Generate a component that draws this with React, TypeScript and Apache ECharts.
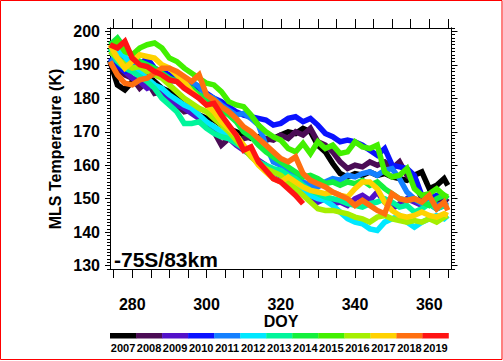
import React, { useEffect, useRef } from 'react';
import * as echarts from 'echarts';

const DOY = [274, 276, 278, 280, 282, 284, 286, 288, 290, 292,
  294, 296, 298, 300, 302, 304, 306, 308, 310, 312,
  314, 316, 318, 320, 322, 324, 326, 328, 330, 332,
  334, 336, 338, 340, 342, 344, 346, 348, 350, 352,
  354, 356, 358, 360, 362, 364, 365];

const YEARS = ['2007', '2008', '2009', '2010', '2011', '2012', '2013', '2014', '2015', '2016', '2017', '2018', '2019'];
const COLORS = ['#000000', '#4b0c55', '#5311c9', '#0a12ff', '#1480ff', '#00e8ff', '#00f59b', '#14f03c', '#42f000', '#a5ef00', '#ffd200', '#ff6f10', '#ff1414'];

const T2007 = [191, 184, 182.5, 185, 186, 187, 185, 183, 182, 180,
  178, 177, 175, 174, 173.5, 172, 171, 170, 169, 168,
  168.5, 167.5, 168, 169, 170, 169.5, 171, 170, 166, 164,
  160.5, 157.5, 156.5, 157.5, 157, 158, 157, 157.5, 156.5, 156,
  155.5, 157, 158, 153, 154, 156, 154];
const T2008 = [190, 189, 187, 186, 183, 185, 181.5, 182, 179, 178,
  176, 176.5, 174, 172, 170, 166, 168, 167, 168, 168.5,
  167, 168, 167.5, 169, 168, 170, 169, 171, 167, 166,
  164, 161, 159, 160, 159.5, 161, 160, 161, 159, 161,
  157, 155, 150, 151, 149, 150, 149];
const T2009 = [192, 190, 188, 186, 185, 183, 184, 181, 180, 178,
  177, 175.5, 174, 172, 171, 169, 168, 166, 164.5, 163,
  161.5, 160, 158, 156.5, 155, 153.5, 151.5, 150.5, 149, 150,
  148.5, 149, 148, 150, 151, 149.5, 152, 149, 147, 148.5,
  150, 149, 148, 148.5, 147, 148, 148];
const T2010 = [192, 190, 188, 189, 190, 192, 189, 188, 187, 186,
  185, 184, 183, 181.5, 180, 179, 177.5, 176, 175, 174.5,
  174, 173.5, 172, 172.5, 174, 174.5, 173, 174, 172, 169.5,
  168.5, 167, 167.5, 167, 166, 164.5, 163, 165, 160, 159.5,
  159, 157, 151, 150, 151, 150.5, 150];
const T2011 = [190, 194, 192, 191, 188, 189, 187, 186.5, 185, 185.5,
  184, 185, 183.5, 181, 180, 178, 176.5, 175, 175.5, 174,
  172, 166, 161, 160, 158, 157, 155, 154, 153.5, 155,
  156, 155.5, 157, 156.5, 157.5, 158, 157, 158.5, 159, 156,
  152, 150, 148.5, 149, 148, 148.5, 148];
const T2012 = [193, 194, 192.5, 189, 188, 186, 184, 183, 181, 179.5,
  178, 177, 175, 173, 171.5, 170, 168, 167, 165, 163,
  161, 159.5, 158, 157, 156, 154.5, 153, 151, 150, 149.5,
  148, 146, 144, 143, 142.5, 141, 140.5, 143, 144, 145,
  143, 141.5, 143, 144, 145, 144, 145];
const T2013 = [195, 191, 189, 188, 186.5, 185, 183, 180, 178, 176,
  172.5, 172.5, 173, 171, 169.5, 168.5, 168, 166.5, 165, 163,
  161, 160, 159, 158.5, 157, 156, 154, 152.5, 151.5, 150.5,
  150, 149.5, 148.5, 148, 147.5, 148.5, 149, 150, 149, 147.5,
  148, 146, 147, 148.5, 147, 148, 147.5];
const T2014 = [196, 198, 195, 193, 191, 190, 189, 187.5, 186, 185,
  184, 183, 181, 180, 178, 176.5, 175, 173, 170, 168.5,
  166, 164, 162.5, 161, 159.5, 158, 156.5, 157, 156, 154.5,
  155, 154, 155, 154.5, 155.5, 154, 155, 153, 151.5, 150,
  149.5, 150, 149, 148, 150, 151, 150];
const T2015 = [195, 197, 194, 193, 195, 196, 196.5, 195, 192, 191,
  189, 187.5, 186, 184.5, 184, 182, 179, 178, 177.5, 175,
  172, 170, 168.5, 167.5, 165, 164, 166.5, 163.5, 167, 165,
  166, 163.5, 164, 167, 165.5, 165, 166, 158, 156.5, 157,
  159, 153, 151, 151.5, 153, 151, 150.5];
const T2016 = [194, 192, 190, 189, 189.5, 188, 187, 186, 184, 182,
  180, 178.5, 177, 176, 174, 172, 170, 167.5, 165, 162.5,
  160.5, 159, 158, 157, 155, 153, 151, 149, 147, 146.5,
  146.5, 146, 145.5, 144.5, 144, 143, 144.5, 145, 144, 143.5,
  143, 143.5, 143, 144, 143, 144.5, 145];
const T2017 = [196, 192, 189, 191, 193, 192.5, 192, 190, 189, 187,
  185, 182, 180, 178, 176, 173, 171, 169, 166, 163,
  160, 158, 156, 155, 156.5, 155, 153.5, 152.5, 152, 151.5,
  152, 151, 150.5, 153, 155, 155, 153, 149, 146.5, 145,
  144.5, 145, 146, 145, 144.5, 145.5, 145];
const T2018 = [191, 187, 184.5, 184, 185.5, 186, 187.5, 189, 189, 188,
  186.5, 185, 187, 181, 179.5, 177.5, 176, 174, 171.5, 170,
  168, 166, 164, 162, 161, 162.5, 157.5, 155.5, 154.5, 153.5,
  152, 151, 150, 148, 149.5, 148, 146.5, 145.5, 151.5, 150,
  149.5, 150, 149, 151, 147, 149, 146.5];
const T2019 = [196, 195, 197, 192, 190, 189.5, 188, 187, 185.5, 185,
  183, 181.5, 180, 178, 178.5, 175, 172, 169, 164.5, 165.5,
  161, 158.5, 156, 155, 153, 151, 148.5];

const TEMPS = [T2007, T2008, T2009, T2010, T2011, T2012, T2013, T2014, T2015, T2016, T2017, T2018, T2019];

const X_TICKS = [275, 280, 285, 290, 295, 300, 305, 310, 315, 320, 325, 330, 335, 340, 345, 350, 355, 360, 365];
const X_LABELS = [280, 300, 320, 340, 360];
const Y_LABELS = [130, 140, 150, 160, 170, 180, 190, 200];
const Y_MINOR: number[] = [];
for (let v = 129; v <= 201; v++) Y_MINOR.push(v);

const FONT = '"Liberation Sans", Arial, Helvetica, sans-serif';

export default function App() {
  const ref = useRef<HTMLDivElement>(null);
  useEffect(() => {
    const chart = echarts.init(ref.current!, null, { renderer: 'svg' });
    const line = { color: '#000', width: 1 };
    const xAxisBase = (position: string, labels: boolean) => ({
      type: 'value', position, min: 274, max: 366,
      axisLine: { show: true, onZero: false, lineStyle: line },
      axisTick: { show: true, customValues: X_TICKS, length: 9, inside: false, lineStyle: line },
      axisLabel: labels
        ? { show: true, customValues: X_LABELS, fontSize: 16, fontWeight: 'bold', color: '#000', margin: 27, fontFamily: FONT }
        : { show: false },
      splitLine: { show: false },
    });
    const yAxisBase = (position: string, ticks: number[], len: number, labels: boolean) => ({
      type: 'value', position, offset: 0, min: 129, max: 201,
      axisLine: { show: true, onZero: false, lineStyle: line },
      axisTick: { show: true, customValues: ticks, length: len, inside: false, lineStyle: line },
      axisLabel: labels
        ? { show: true, customValues: Y_LABELS, fontSize: 16, fontWeight: 'bold', color: '#000', margin: 10, fontFamily: FONT }
        : { show: false },
      splitLine: { show: false },
    });

    const x0 = 110, x1 = 448.5;
    const bw = (x1 - x0) / YEARS.length;
    const bar: any[] = [];
    YEARS.forEach((y, i) => {
      bar.push({ type: 'rect', silent: true, shape: { x: x0 + i * bw, y: 333, width: bw + 0.3, height: 5.5 }, style: { fill: COLORS[i] } });
      bar.push({ type: 'text', silent: true, x: x0 + (i + 0.5) * bw, y: 348, style: { text: y, fontSize: 11, fontWeight: 'bold', fontFamily: FONT, fill: '#000', align: 'center', verticalAlign: 'middle' } });
    });

    chart.setOption({
      animation: false,
      backgroundColor: '#ffffff',
      grid: { left: 110, top: 28, width: 341.5, height: 241, containLabel: false },
      xAxis: [xAxisBase('bottom', true), xAxisBase('top', false)],
      yAxis: [
        yAxisBase('left', Y_LABELS, 5, true),
        yAxisBase('left', Y_MINOR, 3, false),
        yAxisBase('right', Y_LABELS, 6, false),
        yAxisBase('right', Y_MINOR, 3.5, false),
      ],
      series: TEMPS.map((t, i) => ({
        type: 'line',
        name: YEARS[i],
        xAxisIndex: 0,
        yAxisIndex: 0,
        data: t.map((v, j) => [DOY[j], v]),
        symbol: 'none',
        clip: true,
        lineStyle: { color: COLORS[i], width: 5.5, join: 'miter' },
        itemStyle: { color: COLORS[i] },
      })),
      graphic: [
        { type: 'rect', silent: true, shape: { x: 0.5, y: 0.5, width: 501.5, height: 359 }, style: { fill: 'none', stroke: '#ff0000', lineWidth: 1 } },
        { type: 'text', silent: true, x: 55, y: 149, rotation: Math.PI / 2, style: { text: 'MLS Temperature (K)', fontSize: 16, fontWeight: 'bold', fontFamily: FONT, fill: '#000', align: 'center', verticalAlign: 'middle' } },
        { type: 'text', silent: true, x: 281, y: 321, style: { text: 'DOY', fontSize: 16, fontWeight: 'bold', fontFamily: FONT, fill: '#000', align: 'center', verticalAlign: 'middle' } },
        { type: 'text', silent: true, x: 114, y: 259, style: { text: '-75S/83km', fontSize: 21, fontWeight: 'bold', fontFamily: FONT, fill: '#000', align: 'left', verticalAlign: 'middle' } },
        ...bar,
      ],
    });
    return () => chart.dispose();
  }, []);
  return <div ref={ref} style={{ position: 'absolute', left: 0, top: 0, width: 503, height: 361, background: '#fff' }} />;
}
